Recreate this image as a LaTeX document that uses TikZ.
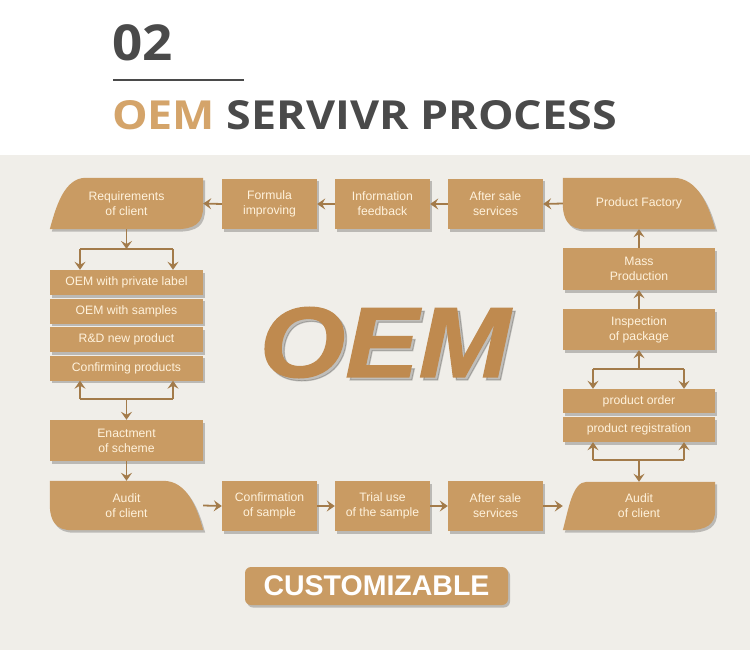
\documentclass[tikz,border=0pt]{standalone}
\usepackage{fontspec}
\usepackage{graphicx}
\setmainfont{Liberation Sans}
\newfontfamily\titlefont{Open Sans}
\newfontfamily\bigfont{Liberation Sans}[BoldItalicFeatures={FakeBold=1.2}]
\usetikzlibrary{arrows.meta,shadows,calc}
\definecolor{darkc}{HTML}{4A4A4A}
\definecolor{oemtitle}{HTML}{D4A46A}
\definecolor{boxc}{HTML}{C99B63}
\definecolor{boxtext}{HTML}{FFF2DC}
\definecolor{arrc}{HTML}{A37B4A}
\definecolor{bgc}{HTML}{F0EEE9}
\definecolor{oemc}{HTML}{BF8A4F}
\pgfdeclarelayer{back}
\pgfdeclarelayer{bg}
\pgfsetlayers{back,bg,main}
% leafA: big curve top-left, small curve bottom-right
\newcommand\leafA[2]{%
  \fill[boxc, shad] ($(#1.north west)+(#2,0)$) -- (#1.north east) -- ($(#1.north east)+(0,28)$)
    .. controls ($(#1.south east)+(0,-6)$) and ($(#1.south east)+(-8,0)$) .. ($(#1.south east)+(-28,0)$)
    -- (#1.south west)
    .. controls ($(#1.south west)+(6,-22)$) and ($(#1.north west)+(0.4*#2,0)$) .. ($(#1.north west)+(#2,0)$) -- cycle;}
% leafB: big curve top-right, small curve bottom-left
\newcommand\leafB[2]{%
  \fill[boxc, shad] (#1.north west) -- ($(#1.north east)+(-#2,0)$)
    .. controls ($(#1.north east)+(-0.4*#2,0)$) and ($(#1.south east)+(-6,-22)$) .. (#1.south east)
    -- ($(#1.south west)+(22,0)$)
    .. controls ($(#1.south west)+(7,0)$) and ($(#1.south west)+(0,-8)$) .. ($(#1.south west)+(0,-26)$) -- cycle;}
\begin{document}
\begin{tikzpicture}[x=1pt,y=-1pt,
  shad/.style={drop shadow={shadow xshift=2pt, shadow yshift=-2.5pt, opacity=0.22, fill=black}},
  txt/.style={text=boxtext, font=\fontsize{12.2}{15}\selectfont, align=center, inner sep=0pt},
  box/.style={txt, fill=boxc, shad},
  leaf/.style={txt},
  arr/.style={draw=arrc, line width=1.8pt, -{Stealth[length=8pt,width=11pt,inset=3pt]}},
  ln/.style={draw=arrc, line width=1.8pt}]
\useasboundingbox (0,0) rectangle (750,650);
\begin{pgfonlayer}{back}
  \fill[white] (0,0) rectangle (750,155);
  \fill[bgc] (0,155) rectangle (750,650);
\end{pgfonlayer}
% title
\node[anchor=base west, inner sep=0pt, text=darkc, font=\titlefont\bfseries\fontsize{49.5}{49.5}\selectfont] (num) at (112,61) {\scalebox{1.07}[1]{02}};
\coordinate (la) at (113,80);
\coordinate (lb) at (244,80);
\draw[darkc, line width=2.2pt] (la) -- (lb);
\node[anchor=base west, inner sep=0pt, text=darkc, font=\titlefont\bfseries\fontsize{40}{40}\selectfont] (title) at (112,130) {\scalebox{1.12}[1]{\textcolor{oemtitle}{OEM} SERVIVR PROCESS}};
% top row
\node[leaf, minimum width=153, minimum height=51] (req) at (126.5,203.5) {Requirements\\of client};
\node[box, minimum width=95, minimum height=50] (formula) at (269.5,204) {Formula\\improving};
\node[box, minimum width=95, minimum height=50] (info) at (382.5,204) {Information\\feedback};
\node[box, minimum width=95, minimum height=50] (aft1) at (495.5,204) {After sale\\services};
\node[leaf, minimum width=152, minimum height=51] (fac) at (639,203.5) {Product Factory};
% left column
\node[box, minimum width=153, minimum height=25] (b1) at (126.5,282.5) {OEM with private label};
\node[box, minimum width=153, minimum height=25] (b2) at (126.5,311) {OEM with samples};
\node[box, minimum width=153, minimum height=25] (b3) at (126.5,339.5) {R\&D new product};
\node[box, minimum width=153, minimum height=25] (b4) at (126.5,368) {Confirming products};
\node[box, minimum width=153, minimum height=41] (enact) at (126.5,440.5) {Enactment\\of scheme};
\node[leaf, minimum width=153, minimum height=49] (audL) at (126.5,505.5) {Audit\\of client};
% right column
\node[box, minimum width=152, minimum height=42] (mass) at (639,269) {Mass\\Production};
\node[box, minimum width=152, minimum height=41] (insp) at (639,329.5) {Inspection\\of package};
\node[box, minimum width=152, minimum height=24] (po) at (639,401) {product order};
\node[box, minimum width=152, minimum height=25] (reg) at (639,429.5) {product registration};
\node[leaf, minimum width=152, minimum height=48] (audR) at (639,506) {Audit\\of client};
% bottom row
\node[box, minimum width=95, minimum height=50] (conf) at (269.5,506) {Confirmation\\of sample};
\node[box, minimum width=95, minimum height=50] (trial) at (382.5,506) {Trial use\\of the sample};
\node[box, minimum width=95, minimum height=50] (aft2) at (495.5,506) {After sale\\services};
% leaf shapes
\begin{pgfonlayer}{bg}
  \leafA{req}{36}
  \leafB{fac}{42}
  \leafB{audL}{40}
  \leafA{audR}{24}
\end{pgfonlayer}
% big OEM
\node[inner sep=0pt, text=black, opacity=0.2, font=\bigfont\bfseries\itshape\fontsize{100}{100}\selectfont] (oemsh) at (388,345.5) {\scalebox{1.1}[1]{OEM}};
\node[inner sep=0pt, text=oemc, font=\bigfont\bfseries\itshape\fontsize{100}{100}\selectfont] (oem) at (385,342.5) {\scalebox{1.1}[1]{OEM}};
% customizable
\node[fill=boxc, rounded corners=6pt, minimum width=263, minimum height=38, inner sep=0pt, shad, text=white, font=\fontsize{28.5}{28.5}\selectfont\bfseries] (cust) at (376.5,586) {CUSTOMIZABLE};
% top row arrows
\draw[arr] (fac.west) -- (aft1.east);
\draw[arr] (aft1.west) -- (info.east);
\draw[arr] (info.west) -- (formula.east);
\draw[arr] (formula.west) -- (req.east);
% bottom row arrows
\draw[arr] (audL.east) -- (conf.west);
\draw[arr] (conf.east) -- (trial.west);
\draw[arr] (trial.east) -- (aft2.west);
\draw[arr] (aft2.east) -- (audR.west);
% left branches
\coordinate (ltc) at (126.5,249);
\coordinate (ltl) at (80,249);
\coordinate (ltr) at (173,249);
\draw[arr] (req.south) -- (ltc);
\draw[ln] (ltl) -- (ltr);
\draw[arr] (ltl) -- (ltl |- b1.north);
\draw[arr] (ltr) -- (ltr |- b1.north);
\coordinate (lbc) at (126.5,399);
\coordinate (lbl) at (80,399);
\coordinate (lbr) at (173,399);
\draw[ln] (lbl) -- (lbr);
\draw[arr] (lbl) -- (lbl |- b4.south);
\draw[arr] (lbr) -- (lbr |- b4.south);
\draw[arr] (lbc) -- (enact.north);
\draw[arr] (enact.south) -- (audL.north);
% right column arrows
\draw[arr] (mass.north) -- (fac.south);
\draw[arr] (insp.north) -- (mass.south);
\coordinate (rtc) at (639,369);
\coordinate (rtl) at (593,369);
\coordinate (rtr) at (684,369);
\draw[arr] (rtc) -- (insp.south);
\draw[ln] (rtl) -- (rtr);
\draw[arr] (rtl) -- (rtl |- po.north);
\draw[arr] (rtr) -- (rtr |- po.north);
\coordinate (rbc) at (639,460);
\coordinate (rbl) at (593,460);
\coordinate (rbr) at (684,460);
\draw[ln] (rbl) -- (rbr);
\draw[arr] (rbl) -- (rbl |- reg.south);
\draw[arr] (rbr) -- (rbr |- reg.south);
\draw[arr] (rbc) -- (audR.north);
\end{tikzpicture}
\end{document}
